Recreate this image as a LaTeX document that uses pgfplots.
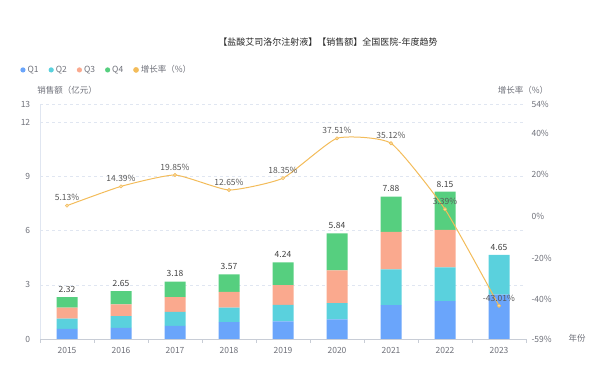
\documentclass[border=0pt]{standalone}
\usepackage{pgfplots}
\pgfplotsset{compat=1.18}
\usepackage{fontspec}
\setmainfont{Noto Sans CJK SC}
\definecolor{cQ1}{HTML}{6AA5FB}
\definecolor{cQ2}{HTML}{5AD1DD}
\definecolor{cQ3}{HTML}{FAA98E}
\definecolor{cQ4}{HTML}{56CF7F}
\definecolor{cL}{HTML}{F3BC5A}
\definecolor{tickc}{HTML}{6E7079}
\definecolor{gridc}{HTML}{E0E6F1}
\definecolor{axc}{HTML}{C8CDD6}
\begin{document}
\begin{tikzpicture}[font=\fontsize{8.5}{10}\selectfont]
\path (0,0) rectangle (596pt,366pt);
\begin{axis}[
  at={(40pt,27pt)}, anchor=south west, scale only axis,
  width=486pt, height=235pt,
  xmin=-0.5, xmax=8.5, ymin=0, ymax=13,
  ybar stacked, bar width=21pt,
  xtick={0,...,8},
  xticklabels={2015,2016,2017,2018,2019,2020,2021,2022,2023},
  minor xtick={-0.5,0.5,...,8.5},
  major x tick style={draw=none},
  minor x tick style={draw=axc},
  tick align=outside,
  minor tick length=4pt,
  ytick={0,3,6,9,12,13},
  major y tick style={draw=none},
  axis x line*=bottom, axis y line*=left,
  x axis line style={draw=axc},
  y axis line style={draw=gridc},
  ymajorgrids, grid style={dashed, gridc},
  ticklabel style={text=tickc},
  /pgf/number format/assume math mode=true,
  xticklabel style={yshift=-1pt},
  yticklabel style={xshift=-2pt},
  legend style={at={(-0.047,1.145)}, anchor=west, draw=none, fill=none,
    legend columns=5, font=\fontsize{8.5}{10}\selectfont, text=tickc,
    /tikz/every even column/.append style={column sep=8pt}},
  legend cell align=left,
]
\addplot[fill=cQ1, draw=none, legend image code/.code={\fill[cQ1] (0.15em,0) circle (2.6pt);}] coordinates {
 (0,0.56) (1,0.61) (2,0.72) (3,0.94) (4,0.98) (5,1.09) (6,1.87) (7,2.09) (8,2.45)};
\addplot[fill=cQ2, draw=none, legend image code/.code={\fill[cQ2] (0.15em,0) circle (2.6pt);}] coordinates {
 (0,0.57) (1,0.65) (2,0.78) (3,0.80) (4,0.91) (5,0.89) (6,1.98) (7,1.87) (8,2.20)};
\addplot[fill=cQ3, draw=none, legend image code/.code={\fill[cQ3] (0.15em,0) circle (2.6pt);}] coordinates {
 (0,0.61) (1,0.65) (2,0.81) (3,0.87) (4,1.09) (5,1.82) (6,2.08) (7,2.08) (8,0)};
\addplot[fill=cQ4, draw=none, legend image code/.code={\fill[cQ4] (0.15em,0) circle (2.6pt);}] coordinates {
 (0,0.58) (1,0.74) (2,0.87) (3,0.96) (4,1.26) (5,2.04) (6,1.95) (7,2.11) (8,0)};
\addlegendimage{legend image code/.code={\fill[cL] (0.15em,0) circle (2.6pt);}}
\legend{Q1,Q2,Q3,Q4,增长率（\%）}
\end{axis}
% totals above the bars
\begin{axis}[
  at={(40pt,27pt)}, anchor=south west, scale only axis,
  width=486pt, height=235pt,
  xmin=-0.5, xmax=8.5, ymin=0, ymax=13,
  hide axis, clip=false,
  /pgf/number format/assume math mode=true,
]
\addplot[draw=none, mark=none,
  nodes near coords={\pgfmathprintnumber[fixed,precision=2,fixed zerofill,assume math mode=true]{\pgfplotspointmeta}},
  nodes near coords style={text=black!75, anchor=south, yshift=1pt, font=\fontsize{8.5}{10}\selectfont},
  point meta=y] coordinates {
 (0,2.32) (1,2.65) (2,3.18) (3,3.57) (4,4.24) (5,5.84) (6,7.88) (7,8.15) (8,4.65)};
\end{axis}
\begin{axis}[
  at={(40pt,27pt)}, anchor=south west, scale only axis,
  width=486pt, height=235pt,
  xmin=-0.5, xmax=8.5, ymin=-59, ymax=54,
  hide x axis,
  axis y line*=right,
  y axis line style={draw=none},
  major y tick style={draw=none},
  ytick={-59,-40,-20,0,20,40,54},
  yticklabel={\pgfmathprintnumber{\tick}\%},
  yticklabel style={text=tickc, anchor=west, xshift=2pt},
  /pgf/number format/assume math mode=true,
]
\addplot[smooth, tension=0.3, color=cL, line width=1pt, mark=*, mark size=1.6pt,
  mark options={fill=cL!45, draw=cL, line width=0.6pt},
  nodes near coords={\pgfmathprintnumber[fixed,precision=2,fixed zerofill,assume math mode=true]{\pgfplotspointmeta}\%},
  nodes near coords style={text=black!65, anchor=south, yshift=1pt, font=\fontsize{8.5}{10}\selectfont},
  point meta=y] coordinates {
 (0,5.13) (1,14.39) (2,19.85) (3,12.65) (4,18.35) (5,37.51) (6,35.12) (7,3.39) (8,-43.01)};
\end{axis}
\node[text=black!85, font=\fontsize{9}{11}\selectfont] at (328pt,324pt) {【盐酸艾司洛尔注射液】【销售额】全国医院-年度趋势};
\node[text=tickc] at (67pt,276pt) {销售额（亿元）};
\node[text=tickc] at (523pt,276pt) {增长率（\%）};
\node[text=tickc] at (577pt,28pt) {年份};
\end{tikzpicture}
\end{document}
